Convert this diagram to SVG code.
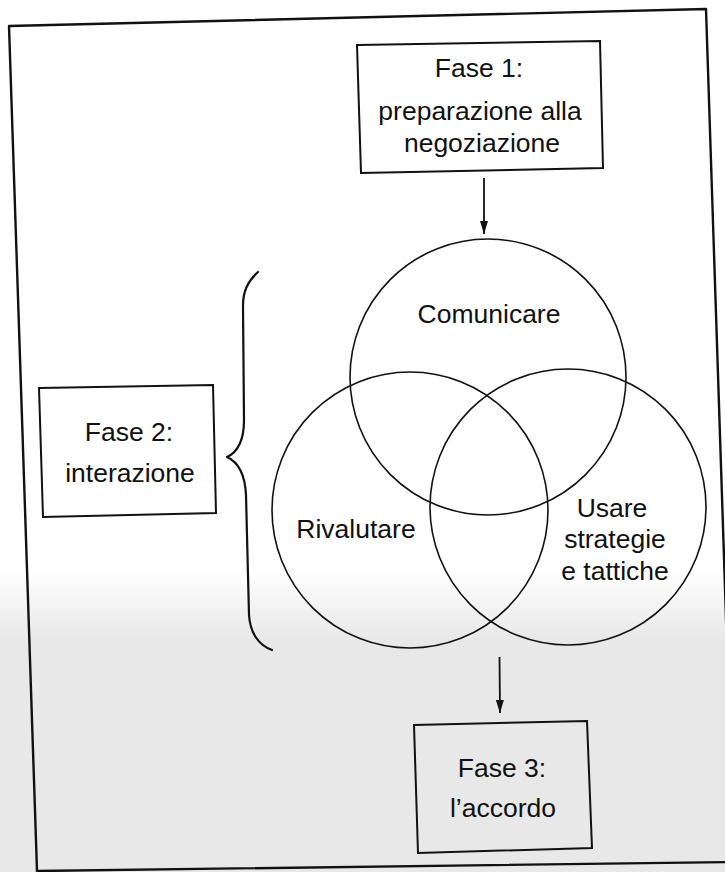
<svg xmlns="http://www.w3.org/2000/svg" width="725" height="872" viewBox="0 0 725 872">
  <defs>
    <linearGradient id="scanTone" gradientUnits="userSpaceOnUse" x1="0" y1="570" x2="0" y2="640">
      <stop offset="0" stop-color="#ffffff"/>
      <stop offset="1" stop-color="#e8e8e8"/>
    </linearGradient>
    <marker id="arrow" viewBox="0 0 13 8" refX="13" refY="4" markerWidth="13" markerHeight="8" markerUnits="userSpaceOnUse" orient="auto">
      <path d="M0,0 L13,4 L0,8 Z" fill="#111"/>
    </marker>
    <style>
      .ln { fill: none; stroke: #111; stroke-linejoin: round; stroke-linecap: round; }
      .box { fill: none; stroke: #111; stroke-width: 2; }
      .circ { fill: none; stroke: #111; stroke-width: 1.6; }
      .lbl { font-family: "Liberation Sans", Arial, sans-serif; font-size: 26.5px; fill: #111; text-anchor: middle; }
      .conn { stroke: #111; stroke-width: 1.8; fill: none; }
    </style>
  </defs>

  <rect x="0" y="0" width="725" height="872" fill="#ffffff"/>
  <rect x="0" y="570" width="725" height="302" fill="url(#scanTone)"/>

  <g id="frame">
    <polygon class="ln" stroke-width="2.4" points="9,26 706,9 734,862 37,871"/>
  </g>

  <g id="fase1">
    <polygon class="box" points="357,45 600,41 603,168 361,173"/>
    <text class="lbl" x="479" y="77" font-size="27.5">Fase 1:</text>
    <text class="lbl" x="480" y="120" font-size="27.5">preparazione alla</text>
    <text class="lbl" x="482" y="152" font-size="27.5">negoziazione</text>
  </g>

  <g id="comunicare">
    <circle class="circ" cx="488" cy="377" r="138"/>
    <text class="lbl" x="489" y="323">Comunicare</text>
  </g>

  <g id="rivalutare">
    <circle class="circ" cx="410" cy="510" r="138"/>
    <text class="lbl" x="356" y="538">Rivalutare</text>
  </g>

  <g id="usare">
    <circle class="circ" cx="568" cy="507" r="138"/>
    <text class="lbl" x="612" y="517">Usare</text>
    <text class="lbl" x="615" y="548">strategie</text>
    <text class="lbl" x="615" y="580">e tattiche</text>
  </g>

  <g id="fase2">
    <polygon class="box" points="39,388 213,385 216,513 43,517"/>
    <text class="lbl" x="129" y="441">Fase 2:</text>
    <text class="lbl" x="130" y="482">interazione</text>
  </g>

  <g id="fase3">
    <polygon class="box" points="414,725 587,721 592,848 418,853"/>
    <text class="lbl" x="502" y="777">Fase 3:</text>
    <text class="lbl" x="503" y="817">l’accordo</text>
  </g>

  <g id="connectors">
    <line class="conn" x1="484" y1="178" x2="484" y2="234" marker-end="url(#arrow)"/>
    <line class="conn" x1="499.5" y1="657" x2="500" y2="713" marker-end="url(#arrow)"/>
    <path id="brace" class="ln" stroke-width="2.2" d="M258,272 C247,282 243,292 243,306 L244,420 C244,440 238,452 227,457 C238,462 245,474 246,495 L249,615 C250,632 258,645 272,650"/>
  </g>
</svg>
